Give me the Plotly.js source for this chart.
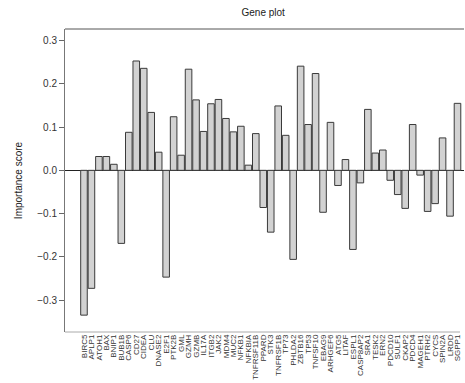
<!DOCTYPE html>
<html>
<head>
<meta charset="utf-8">
<script src="https://cdn.plot.ly/plotly-3.0.1.min.js"></script>
<style>html,body{margin:0;padding:0;background:#fff;}#chart{width:465px;height:383px;}</style>
</head>
<body>
<div id="chart"></div>
<script>
const genes = ["BIRC5","APLP1","ATOH1","BAX","BNIP1","BUB1B","CASP6","CD27","CIDEA","CLU","DNASE2","E2F1","PTK2B","GML","GZMH","GZMB","IL17A","ITGB2","JAK2","MDM4","MUC2","NFKB1","NFKBIA","TNFRSF11B","PPARD","STK3","TNFRSF1B","TP73","PHLDA2","ZBTB16","TP53","TNFSF10","EBAG9","ARHGEF6","ATG5","LITAF","ESPL1","CASP8AP2","SRA1","TESK2","ERN2","PDCD10","SULF1","CKAP2","PDCD4","MAGEH1","PTRH2","CYCS","SPIN2A","LRDD","SGPP1"];
const scores = [-0.335,-0.273,0.032,0.032,0.014,-0.169,0.088,0.253,0.236,0.134,0.042,-0.247,0.124,0.035,0.234,0.163,0.090,0.154,0.164,0.120,0.089,0.102,0.012,0.085,-0.086,-0.143,0.149,0.081,-0.206,0.241,0.106,0.224,-0.097,0.111,-0.035,0.025,-0.183,-0.029,0.141,0.040,0.047,-0.023,-0.056,-0.088,0.106,-0.011,-0.095,-0.077,0.075,-0.106,0.155];
const yTicks = [-0.3,-0.2,-0.1,0.0,0.1,0.2,0.3];

const trace = {
  type: 'bar',
  x: genes.map((g,i)=>i),
  y: scores,
  marker: {color: '#d2d2d2', line: {color: '#3a3a3a', width: 1}},
  width: 0.88,
  hoverinfo: 'none'
};

const layout = {
  width: 465, height: 383,
  margin: {l: 65, r: 1, t: 29, b: 51},
  paper_bgcolor: '#fff', plot_bgcolor: '#fff',
  showlegend: false,
  font: {family: 'Liberation Sans, Arial, sans-serif', color: '#333', size: 10},
  title: {text: 'Gene plot', x: 0.566, xanchor: 'center', y: 0.968, yanchor: 'middle', font: {size: 10, color: '#222'}},
  xaxis: {
    range: [-2.54, 50.87],
    tickmode: 'array',
    tickvals: genes.map((g,i)=>i),
    ticktext: genes,
    tickangle: -90,
    ticks: '',
    showgrid: false,
    zeroline: false,
    showline: false,
    tickfont: {size: 8, color: '#333'},
    fixedrange: true
  },
  yaxis: {
    range: [-0.374, 0.327],
    tickmode: 'array',
    tickvals: yTicks,
    ticktext: yTicks.map(v => (v < 0 ? '\u2212' : '') + Math.abs(v).toFixed(1)),
    ticks: 'outside', ticklen: 5, tickcolor: '#666', tickwidth: 1,
    showgrid: false,
    zeroline: true, zerolinecolor: '#222', zerolinewidth: 1,
    showline: true, linecolor: '#777', linewidth: 1,
    tickfont: {size: 10, color: '#333'},
    title: {text: 'Importance score', font: {size: 10, color: '#222'}, standoff: 12},
    fixedrange: true
  },
  shapes: [
    {type: 'line', xref: 'paper', yref: 'paper', x0: 0, x1: 1, y0: 1, y1: 1, line: {color: '#555', width: 1}},
    {type: 'line', xref: 'paper', yref: 'paper', x0: 0, x1: 0.99, y0: 0, y1: 0, line: {color: '#aaa', width: 1}}
  ]
};

Plotly.newPlot('chart', [trace], layout, {staticPlot: true, displayModeBar: false});
</script>
</body>
</html>
